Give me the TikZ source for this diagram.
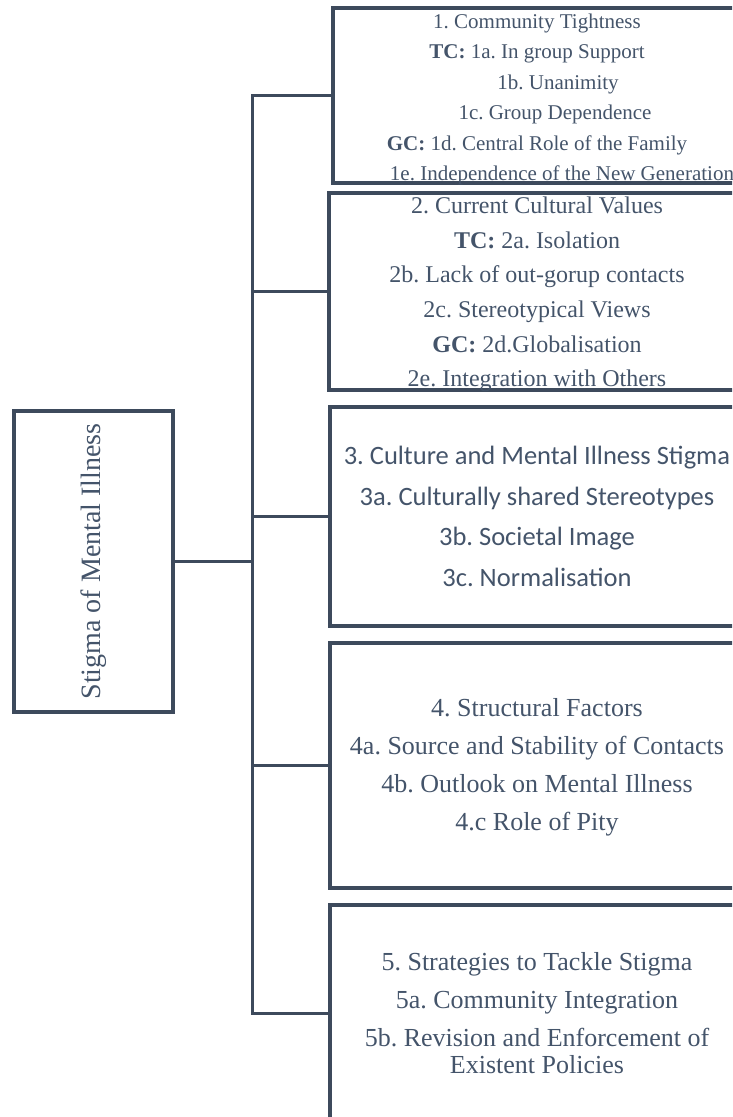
\documentclass[tikz,border=0pt]{standalone}
\usepackage{fontspec}
\setmainfont{Liberation Serif}
\newfontfamily\calibrifont{Carlito}
\definecolor{slate}{HTML}{44546A}
\definecolor{rulecol}{HTML}{3D4A5C}
\frenchspacing
\begin{document}
\begin{tikzpicture}[x=1pt,y=-1pt,
  box/.style={draw=rulecol, line width=4pt, rectangle, inner sep=0pt,
              align=center, text=slate},
  blurb/.style={inner sep=0pt, align=center, text=slate},
  link/.style={draw=rulecol, line width=3pt},
]
\useasboundingbox (0,0) rectangle (732,1117);
\clip (0,0) rectangle (732,1117);

% root
\node[box, minimum width=159pt, minimum height=301pt,
      font=\fontsize{28}{34}\selectfont] (root) at (93.5,561.5)
  {\rotatebox{90}{Stigma of Mental Illness}};

% theme frames
\node[box, minimum width=408pt, minimum height=175pt] (b1) at (537,95.5) {};
\node[box, minimum width=416pt, minimum height=197pt] (b2) at (537,291.5) {};
\node[box, minimum width=414pt, minimum height=219pt] (b3) at (537,516.5) {};
\node[box, minimum width=414pt, minimum height=245pt] (b4) at (537,765.5) {};
\node[box, minimum width=414pt, minimum height=216pt] (b5) at (537,1013) {};

% theme contents
\node[blurb, font=\fontsize{21}{30.5}\selectfont] (t1) at (537,99.5)
  {1. Community Tightness\\
   \textbf{TC:} 1a. In group Support\\
   \hspace*{42pt}1b. Unanimity\\
   \hspace*{36pt}1c. Group Dependence\\
   \textbf{GC:} 1d. Central Role of the Family\\
   \hspace*{50pt}1e. Independence of the New Generation};

\node[blurb, font=\fontsize{24}{34.6}\selectfont] (t2) at (537,294.5)
  {2. Current Cultural Values\\
   \textbf{TC:} 2a. Isolation\\
   2b. Lack of out-gorup contacts\\
   2c. Stereotypical Views\\
   \textbf{GC:} 2d.Globalisation\\
   2e. Integration with Others};

\node[blurb, font=\calibrifont\fontsize{26.5}{40.7}\selectfont] (t3) at (537,516.5)
  {3. Culture and Mental Illness Stigma\\
   3a. Culturally shared Stereotypes\\
   3b. Societal Image\\
   3c. Normalisation};

\node[blurb, font=\fontsize{26}{38}\selectfont] (t4) at (537,767.5)
  {4. Structural Factors\\
   4a. Source and Stability of Contacts\\
   4b. Outlook on Mental Illness\\
   4.c Role of Pity};

\node[blurb, font=\fontsize{26}{27}\selectfont] (t5) at (537,1013)
  {5. Strategies to Tackle Stigma\\[11pt]
   5a. Community Integration\\[11pt]
   5b. Revision and Enforcement of\\
   Existent Policies};

% connectors
\coordinate (hub) at (252,561.5);
\draw[link] (root.east) -- (hub);
\draw[link] (b1.west) -- (hub |- b1.west) -- (hub |- b5.west) -- (b5.west);
\foreach \b in {b2,b3,b4}
  \draw[link] (hub |- \b.west) -- (\b.west);
\end{tikzpicture}
\end{document}
